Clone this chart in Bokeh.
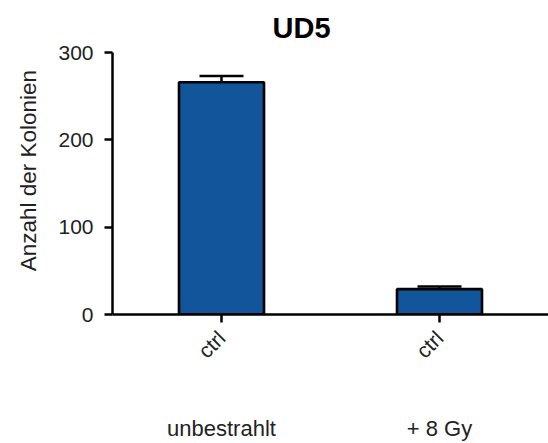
from math import pi

from bokeh.embed import file_html
from bokeh.models import (ColumnDataSource, FixedTicker, LinearAxis, Range1d,
                          TeeHead, Title, Whisker)
from bokeh.plotting import figure
from bokeh.resources import INLINE

# Colony counts per treatment group (mean and error)
groups = ["unbestrahlt", "+ 8 Gy"]
conditions = ["ctrl", "ctrl"]
colonies = [266, 29]
errors = [7, 3]
y_ticks = [0, 100, 200, 300]

FONT = "Liberation Sans"
BAR_COLOR = "#12559a"
Y_TITLE = "Anzahl der Kolonien"
Y_TITLE_POS = 280  # height (in y units) where the rotated y-axis title ends

xs = list(range(len(groups)))
source = ColumnDataSource(dict(
    x=xs,
    mean=colonies,
    upper=[m + e for m, e in zip(colonies, errors)],
))

p = figure(
    width=548, height=443,
    x_range=Range1d(-0.5, 1.5), y_range=Range1d(0, 300),
    output_backend="svg", toolbar_location=None,
    x_axis_type=None, y_axis_type=None,
    min_border_left=112, min_border_right=0,
    min_border_top=52, min_border_bottom=128,
)
p.outline_line_color = None
p.xgrid.visible = False
p.ygrid.visible = False

p.vbar(x="x", top="mean", bottom=0, width=0.39, source=source,
       fill_color=BAR_COLOR, line_color="black", line_width=2.6)

p.add_layout(Whisker(
    base="x", lower="mean", upper="upper", dimension="height", source=source,
    line_color="black", line_width=2.5,
    upper_head=TeeHead(size=44, line_color="black", line_width=2.5),
    lower_head=None,
))

# y axis
yaxis = LinearAxis(ticker=FixedTicker(ticks=y_ticks))
yaxis.axis_line_width = 2.5
yaxis.major_tick_line_width = 2.5
yaxis.major_tick_out = 8
yaxis.major_tick_in = 0
yaxis.minor_tick_line_color = None
yaxis.major_label_standoff = 11
yaxis.major_label_text_font = FONT
yaxis.major_label_text_font_size = "21px"
yaxis.major_label_text_color = "#222222"
p.add_layout(yaxis, "left")

# y-axis title, drawn as a lone rotated label on a bare outer axis
taxis = LinearAxis(ticker=FixedTicker(ticks=[Y_TITLE_POS]),
                   major_label_overrides={Y_TITLE_POS: Y_TITLE})
taxis.axis_line_color = None
taxis.major_tick_line_color = None
taxis.minor_tick_line_color = None
taxis.major_label_orientation = pi / 2
taxis.major_label_standoff = 21
taxis.major_label_text_font = FONT
taxis.major_label_text_font_size = "22.5px"
taxis.major_label_text_color = "#222222"
p.add_layout(taxis, "left")

# x axis with the condition names
xaxis = LinearAxis(ticker=FixedTicker(ticks=xs),
                   major_label_overrides={x: c for x, c in zip(xs, conditions)})
xaxis.axis_line_width = 2.5
xaxis.major_tick_line_width = 2.5
xaxis.major_tick_out = 8
xaxis.major_tick_in = 0
xaxis.minor_tick_line_color = None
xaxis.major_label_orientation = pi / 4
xaxis.major_label_standoff = 12
xaxis.major_label_text_font = FONT
xaxis.major_label_text_font_size = "21px"
xaxis.major_label_text_color = "#222222"
p.add_layout(xaxis, "below")

# second row: treatment group names
gaxis = LinearAxis(ticker=FixedTicker(ticks=xs),
                   major_label_overrides={x: g for x, g in zip(xs, groups)})
gaxis.axis_line_color = None
gaxis.major_tick_line_color = None
gaxis.minor_tick_line_color = None
gaxis.major_label_standoff = 36
gaxis.major_label_text_font = FONT
gaxis.major_label_text_font_size = "22px"
gaxis.major_label_text_color = "#222222"
p.add_layout(gaxis, "below")

# chart title
p.add_layout(Title(text="UD5", align="left", offset=160,
                   text_font=FONT, text_font_size="29px",
                   text_font_style="bold", text_color="black",
                   standoff=17), "above")

open("out.html", "w").write(file_html(p, INLINE))
